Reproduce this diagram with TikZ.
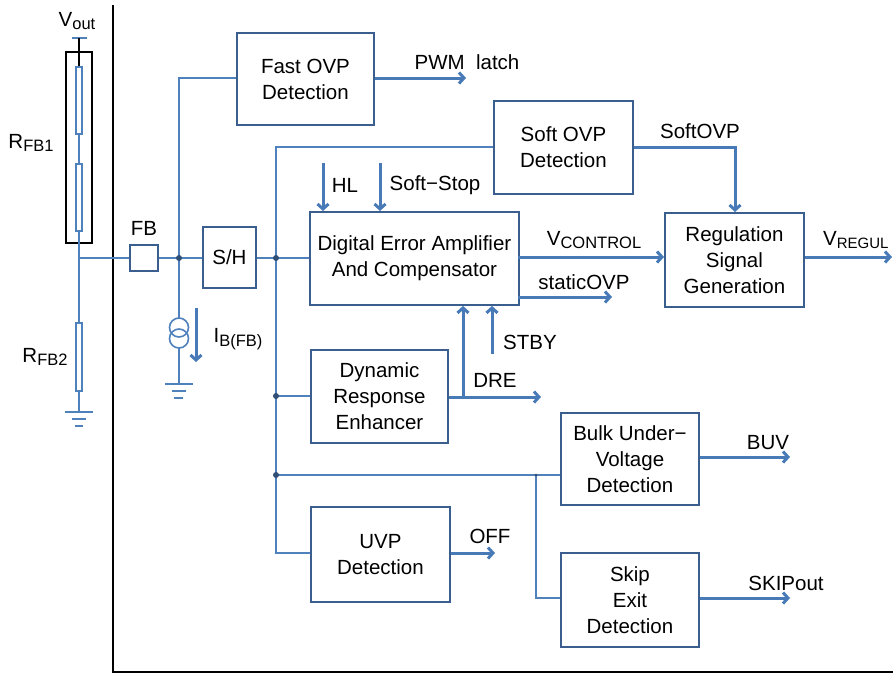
\documentclass[tikz,border=0pt]{standalone}
\usepackage{fontspec}
\setmainfont{Liberation Sans}
\usetikzlibrary{arrows.meta}
\definecolor{boxc}{RGB}{58,95,142}
\definecolor{wirec}{RGB}{79,129,189}
\definecolor{arrc}{RGB}{72,122,184}
\definecolor{dotc}{RGB}{48,78,118}
\newcommand{\sbs}[1]{\raisebox{-0.35ex}{\fontsize{16.5}{16.5}\selectfont #1}}
\newcommand{\sbsn}[1]{\raisebox{-0.35ex}{\fontsize{15}{15}\selectfont #1}}
\begin{document}
\begin{tikzpicture}[x=1pt,y=-1pt,
  blk/.style={draw=boxc, line width=1.9pt, fill=white, anchor=north west, inner sep=0pt,
    align=center, font=\fontsize{20.5}{26}\selectfont},
  wire/.style={draw=wirec, line width=1.6pt},
  sig/.style={draw=arrc, line width=3pt, -{Straight Barb[length=5pt,width=11pt]}},
  jdot/.style={circle, fill=dotc, inner sep=0pt, minimum size=6pt},
  lbl/.style={font=\fontsize{20.5}{22}\selectfont, inner sep=0pt},
  res/.style={draw=wirec, line width=1.3pt, fill=white},
  gnd/.style={draw=wirec, line width=1.8pt}]
\useasboundingbox (0,0) rectangle (893,673);

% black frame lines
\draw[line width=1.8pt] (113,5) -- (113,673);
\draw[line width=1.8pt] (113,672) -- (893,672);

% blocks
\node[blk, minimum width=137pt, minimum height=92pt] (fast) at (236,32) {Fast OVP\\Detection};
\node[blk, minimum width=139pt, minimum height=93pt] (soft) at (493,100) {Soft OVP\\Detection};
\node[blk, minimum width=209pt, minimum height=93pt] (dea) at (309,211) {Digital Error Amplifier\\And Compensator};
\node[blk, minimum width=139pt, minimum height=94pt] (reg) at (664,212) {Regulation\\Signal\\Generation};
\node[blk, minimum width=137pt, minimum height=93pt] (dre) at (310,349) {Dynamic\\Response\\Enhancer};
\node[blk, minimum width=138pt, minimum height=92pt] (bulk) at (560,412) {Bulk Under−\\Voltage\\Detection};
\node[blk, minimum width=139pt, minimum height=95pt] (uvp) at (310,506) {UVP\\Detection};
\node[blk, minimum width=138pt, minimum height=94pt] (skip) at (560,552) {Skip\\Exit\\Detection};
\node[blk, minimum width=53pt, minimum height=61pt] (sh) at (202,226) {S/H};
\node[blk, minimum width=28pt, minimum height=26pt] (fb) at (129,244) {};

% external divider: Vout, resistors
\coordinate (vout) at (79,38);
\coordinate (fbn) at (79,258);
\coordinate (gl) at (79,412);
\draw[wire] (72,38) -- (87,38);
\draw[line width=1.6pt] (vout) -- (79,67);
\draw[line width=1.8pt] (66,52) rectangle (92,243);
\draw[wire] (79,134) -- (79,164);
\draw[wire] (79,231) -- (fbn) -- (79,323);
\draw[wire] (79,391) -- (gl);
\node[res, minimum width=6pt, minimum height=67pt, inner sep=0pt] (r1a) at (79,100.5) {};
\node[res, minimum width=6pt, minimum height=67pt, inner sep=0pt] (r1b) at (79,197.5) {};
\node[res, minimum width=6pt, minimum height=68pt, inner sep=0pt] (r2) at (79,357) {};
\draw[gnd] (65,412) -- (93,412);
\draw[gnd] (72,419) -- (86,419);
\draw[gnd] (75,426) -- (83,426);

% labels left
\node[lbl] (lvout) at (77,21) {V\sbs{out}};
\node[lbl] (lr1) at (31,143) {R\sbs{FB1}};
\node[lbl] (lr2) at (45,357) {R\sbs{FB2}};
\node[lbl] (lfb) at (144,228) {FB};
\node[lbl] (lib) at (238,339) {I\sbs{B(FB)}};

% FB path
\coordinate (j1) at (179,258);
\coordinate (j2) at (276,258);
\draw[wire] (fbn) -- (fb.west |- fbn);
\draw[wire] (fb.east |- j1) -- (j1) -- (sh.west |- j1);
\draw[wire] (sh.east |- j2) -- (j2) -- (dea.west |- j2);
\draw[wire] (j1) -- (179,78) -- (fast.west |- 0,78);

% current source
\coordinate (cs1) at (179,327.5);
\coordinate (cs2) at (179,338.5);
\coordinate (gc) at (179,384);
\draw[wire] (j1) -- (179,318);
\draw[wire] (cs1) circle (9.5);
\draw[wire] (cs2) circle (9.5);
\draw[wire] (179,348) -- (gc);
\draw[gnd] (165,384) -- (193,384);
\draw[gnd] (172,391) -- (186,391);
\draw[gnd] (174,398) -- (183,398);
\coordinate (ib1) at (196,308);
\coordinate (ib2) at (196,362);
\draw[sig] (ib1) -- (ib2);

% bus
\coordinate (btop) at (276,147);
\coordinate (j3) at (276,396);
\coordinate (j4) at (276,475);
\coordinate (j5) at (536,475);
\coordinate (bbot) at (276,553);
\draw[wire] (soft.west |- btop) -- (btop) -- (bbot) -- (uvp.west |- bbot);
\draw[wire] (j3) -- (dre.west |- j3);
\draw[wire] (j4) -- (bulk.west |- j4);
\draw[wire] (j5) -- (536,598) -- (skip.west |- 0,598);

\node[jdot] (d1) at (j1) {};
\node[jdot] (d2) at (j2) {};
\node[jdot] (d3) at (j3) {};
\node[jdot] (d4) at (j4) {};
\node[circle, fill=dotc, inner sep=0pt, minimum size=3pt] (d5) at (j5) {};

% signal arrows
\coordinate (pwm) at (466,78);
\draw[sig] (fast.east |- pwm) -- (pwm);
\node[lbl] (lpwm) at (467,62) {PWM\ \ latch};

\coordinate (sc) at (735,147);
\draw[sig] (soft.east |- sc) -- (sc) -- (sc |- reg.north);
\node[lbl] (lsoft) at (700,131) {SoftOVP};

\coordinate (hl) at (323,163);
\coordinate (ss) at (380,163);
\draw[sig] (hl) -- (hl |- dea.north);
\draw[sig] (ss) -- (ss |- dea.north);
\node[lbl] (lhl) at (345,185) {HL};
\node[lbl] (lss) at (435,185) {Soft−Stop};

\coordinate (vc) at (518,257);
\draw[sig] (vc) -- (vc -| reg.west);
\node[lbl] (lvc) at (594,240) {V\sbs{CONTROL}};

\coordinate (so1) at (518,297);
\coordinate (so2) at (612,297);
\draw[sig] (so1) -- (so2);
\node[lbl] (lso) at (584,282) {staticOVP};

\coordinate (stby) at (492,354);
\draw[sig] (stby) -- (stby |- dea.south);
\node[lbl] (lstby) at (530,342) {STBY};

\coordinate (dreo) at (541,397);
\coordinate (drev) at (463,397);
\draw[sig] (dre.east |- dreo) -- (dreo);
\draw[sig] (drev) -- (drev |- dea.south);
\node[lbl] (ldre) at (495,380) {DRE};

\coordinate (vr) at (892,257);
\draw[sig] (reg.east |- vr) -- (vr);
\node[lbl, anchor=west] (lvr) at (823,240) {V\sbsn{REGUL}};

\coordinate (buv) at (790,457);
\draw[sig] (bulk.east |- buv) -- (buv);
\node[lbl] (lbuv) at (768,443) {BUV};

\coordinate (off) at (495,553);
\draw[sig] (uvp.east |- off) -- (off);
\node[lbl] (loff) at (490,536) {OFF};

\coordinate (skp) at (790,598);
\draw[sig] (skip.east |- skp) -- (skp);
\node[lbl] (lskp) at (786,583) {SKIPout};
\end{tikzpicture}
\end{document}
